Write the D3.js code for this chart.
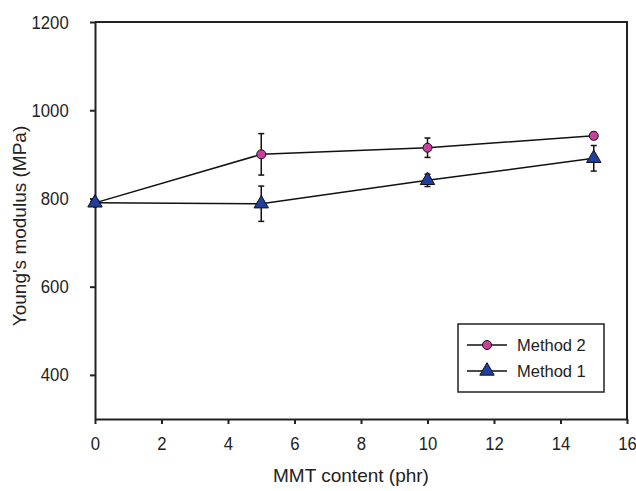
<!DOCTYPE html>
<html>
<head>
<meta charset="utf-8">
<script src="https://cdn.jsdelivr.net/npm/d3@7"></script>
<style>
  body { margin: 0; background: #fff; }
  text { font-family: "Liberation Sans", Arial, sans-serif; fill: #222; }
</style>
</head>
<body>
<svg class="chart" width="636" height="491"></svg>
<script>
// values
var mmt = [0, 5, 10, 15];
var method2 = [790, 900, 915, 942];
var method2Err = [0, 47, 22, 8];
var method1 = [790, 788, 841, 891];
var method1Err = [0, 40, 14, 29];
var xTicks = [0, 2, 4, 6, 8, 10, 12, 14, 16];
var yTicks = [400, 600, 800, 1000, 1200];

var margin = {top: 22, right: 9, bottom: 72, left: 95};
var svg = d3.select(".chart");
var w = svg.attr("width") - margin.left - margin.right;
var h = svg.attr("height") - margin.top - margin.bottom;

var g = svg.append("g")
    .attr("transform", "translate(" + margin.left + "," + margin.top + ")");

var xScale = d3.scaleLinear().domain([0, 16]).range([0, w]);
var yScale = d3.scaleLinear().domain([300, 1200]).range([h, 0]);

// frame (top + right)
g.append("path")
    .attr("d", "M0,0H" + w + "V" + h)
    .attr("fill", "none")
    .attr("stroke", "#222")
    .attr("stroke-width", 2);

var xAxis = g.append("g")
    .attr("transform", "translate(0," + h + ")")
    .call(d3.axisBottom(xScale).tickValues(xTicks).tickFormat(d3.format("d"))
        .tickSize(5).tickPadding(13).tickSizeOuter(0));

var yAxis = g.append("g")
    .call(d3.axisLeft(yScale).tickValues(yTicks).tickFormat(d3.format("d"))
        .tickSize(5).tickPadding(9).tickSizeOuter(0));

[xAxis, yAxis].forEach(function(a) {
    a.select(".domain").attr("stroke", "#222").attr("stroke-width", 2);
    a.selectAll(".tick line").attr("stroke", "#222").attr("stroke-width", 2);
    a.selectAll(".tick text")
        .style("font-size", "19px")
        .attr("fill", "#222");
});
// the original digits are narrow: squeeze them horizontally
xAxis.selectAll(".tick text").attr("transform", "scale(0.88,1)");
yAxis.selectAll(".tick text").attr("transform", "translate(-14,0) scale(0.88,1)");

// axis titles
svg.append("text")
    .attr("x", margin.left + w / 2 - 10)
    .attr("y", 482)
    .attr("text-anchor", "middle")
    .style("font-size", "19px")
    .text("MMT content (phr)");

svg.append("text")
    .attr("transform", "translate(26,226) rotate(-90)")
    .attr("text-anchor", "middle")
    .style("font-size", "19px")
    .text("Young's modulus (MPa)");

var series = [
    {name: "Method 2", vals: method2, err: method2Err, color: "#c8409e", shape: d3.symbolCircle, size: 64},
    {name: "Method 1", vals: method1, err: method1Err, color: "#1f3ea0", shape: d3.symbolTriangle, size: 90}
];

var line = d3.line()
    .x(function(d) { return xScale(d[0]); })
    .y(function(d) { return yScale(d[1]); });

series.forEach(function(s) {
    var pts = mmt.map(function(x, i) { return [x, s.vals[i], s.err[i]]; });

    g.append("path")
        .datum(pts)
        .attr("d", line)
        .attr("fill", "none")
        .attr("stroke", "#111")
        .attr("stroke-width", 1.5);

    // error bars
    var eb = g.append("g").selectAll("g").data(pts.filter(function(d) { return d[2] > 0; }))
        .enter().append("g");
    eb.append("line")
        .attr("x1", function(d) { return xScale(d[0]); })
        .attr("x2", function(d) { return xScale(d[0]); })
        .attr("y1", function(d) { return yScale(d[1] - d[2]); })
        .attr("y2", function(d) { return yScale(d[1] + d[2]); })
        .attr("stroke", "#111").attr("stroke-width", 1.5);
    [-1, 1].forEach(function(sg) {
        eb.append("line")
            .attr("x1", function(d) { return xScale(d[0]) - 3; })
            .attr("x2", function(d) { return xScale(d[0]) + 3; })
            .attr("y1", function(d) { return yScale(d[1] + sg * d[2]); })
            .attr("y2", function(d) { return yScale(d[1] + sg * d[2]); })
            .attr("stroke", "#111").attr("stroke-width", 1.5);
    });

    g.selectAll(".pt-" + s.name.replace(" ", ""))
        .data(pts).enter().append("path")
        .attr("transform", function(d) { return "translate(" + xScale(d[0]) + "," + yScale(d[1]) + ")"; })
        .attr("d", d3.symbol().type(s.shape).size(s.size))
        .attr("fill", s.color)
        .attr("stroke", "#111")
        .attr("stroke-width", 1);
});

// legend
var lg = svg.append("g").attr("transform", "translate(458,324)");
lg.append("rect")
    .attr("width", 146).attr("height", 68)
    .attr("fill", "#fff").attr("stroke", "#222").attr("stroke-width", 1.5);

series.forEach(function(s, i) {
    var yy = 21 + i * 26;
    lg.append("line").attr("x1", 9).attr("x2", 49).attr("y1", yy).attr("y2", yy)
        .attr("stroke", "#111").attr("stroke-width", 1.5);
    lg.append("path")
        .attr("transform", "translate(29," + yy + ")")
        .attr("d", d3.symbol().type(s.shape).size(s.size))
        .attr("fill", s.color).attr("stroke", "#111").attr("stroke-width", 1);
    lg.append("text").attr("x", 59).attr("y", yy + 6)
        .style("font-size", "16.5px")
        .text(s.name);
});
</script>
</body>
</html>
